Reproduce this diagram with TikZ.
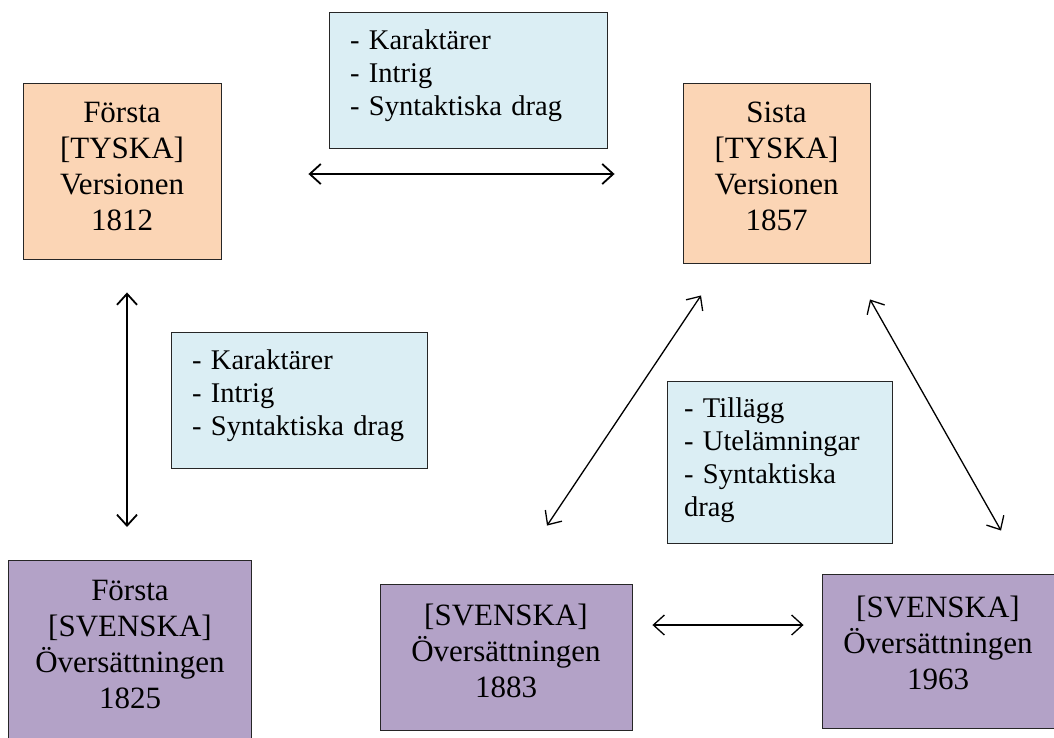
\documentclass[tikz,border=0pt]{standalone}
\usepackage{fontspec}
\setmainfont{Liberation Serif}
\newfontfamily\tnr{Liberation Serif}
\usetikzlibrary{arrows.meta}
\definecolor{peach}{HTML}{FBD5B5}
\definecolor{lblue}{HTML}{DBEEF4}
\definecolor{lpurple}{HTML}{B3A2C7}
\newcommand{\lowdepth}[1]{\rule[-#1pt]{0pt}{0pt}}
\begin{document}
\begin{tikzpicture}[x=1pt,y=-1pt,
  box/.style={draw=black!85, line width=0.9pt, inner sep=0pt, align=center, font=\tnr\fontsize{31}{36}\selectfont},
  tysk/.style={box, fill=peach},
  sv/.style={box, fill=lpurple},
  boxtext/.style={inner sep=0pt, align=center, font=\tnr\fontsize{31}{36}\selectfont},
  note/.style={draw=black!85, line width=0.9pt, fill=lblue, inner ysep=0pt, align=left, font=\tnr\fontsize{28.5}{33}\selectfont},
  link/.style={{Straight Barb[length=11pt,width=20pt]}-{Straight Barb[length=11pt,width=20pt]}, line width=1.8pt},
  thinlink/.style={link, line width=1.3pt}]
\useasboundingbox (0,0) rectangle (1054,737);
\fill[white] (0,0) rectangle (1054,737);
% main boxes
\node[tysk, minimum width=198, minimum height=176] (A) at (122,171) {Första\\{}[TYSKA]\\Versionen\\1812\lowdepth{9}};
\node[tysk, minimum width=187, minimum height=180] (C) at (776.5,173) {Sista\\{}[TYSKA]\\Versionen\\1857\lowdepth{13}};
\node[sv, minimum width=243, minimum height=200, anchor=north] (D) at (129.5,560) {};
\node[boxtext] (Dt) at (130,644) {Första\\{}[SVENSKA]\\Översättningen\\1825};
\node[sv, minimum width=252, minimum height=146] (E) at (506,657) {[SVENSKA]\\Översättningen\\1883\lowdepth{13}};
\node[sv, minimum width=232, minimum height=154] (F) at (938,651) {[SVENSKA]\\Översättningen\\1963\lowdepth{17}};
% notes
\node[note, inner xsep=21pt, text width=236pt, minimum height=136] (N1) at (468,80)
  {\mbox{- Karaktärer}\\\mbox{- Intrig}\\\mbox{- Syntaktiska drag}\lowdepth{15.6}};
\node[note, inner xsep=21pt, text width=214pt, minimum height=136] (N2) at (299,400)
  {\mbox{- Karaktärer}\\\mbox{- Intrig}\\\mbox{- Syntaktiska drag}\lowdepth{15.6}};
\node[note, inner xsep=17pt, text width=191pt, minimum height=162] (N3) at (779.5,462)
  {\mbox{- Tillägg}\\\mbox{- Utelämningar}\\\mbox{- Syntaktiska}\\drag\lowdepth{9}};
% connector ends
\path (A.east) ++(87,3) coordinate (ac1);
\path (C.west) ++(-68,1) coordinate (ac2);
\path (A.south) ++(5,33) coordinate (ad1);
\path (D.north) ++(-2.5,-33) coordinate (ad2);
\path (C.south) ++(-75.5,32) coordinate (ce1);
\path (E.north) ++(41,-58) coordinate (ce2);
\path (C.south) ++(93.5,36) coordinate (cf1);
\path (F.north) ++(63,-43) coordinate (cf2);
\path (E.east) ++(20,-32) coordinate (ef1);
\path (F.west) ++(-18,-26) coordinate (ef2);
\draw[link] (ac1) -- (ac2);
\draw[link] (ad1) -- (ad2);
\draw[thinlink] (ce1) -- (ce2);
\draw[thinlink] (cf1) -- (cf2);
\draw[thinlink] (ef1) -- (ef2);
\end{tikzpicture}
\end{document}
